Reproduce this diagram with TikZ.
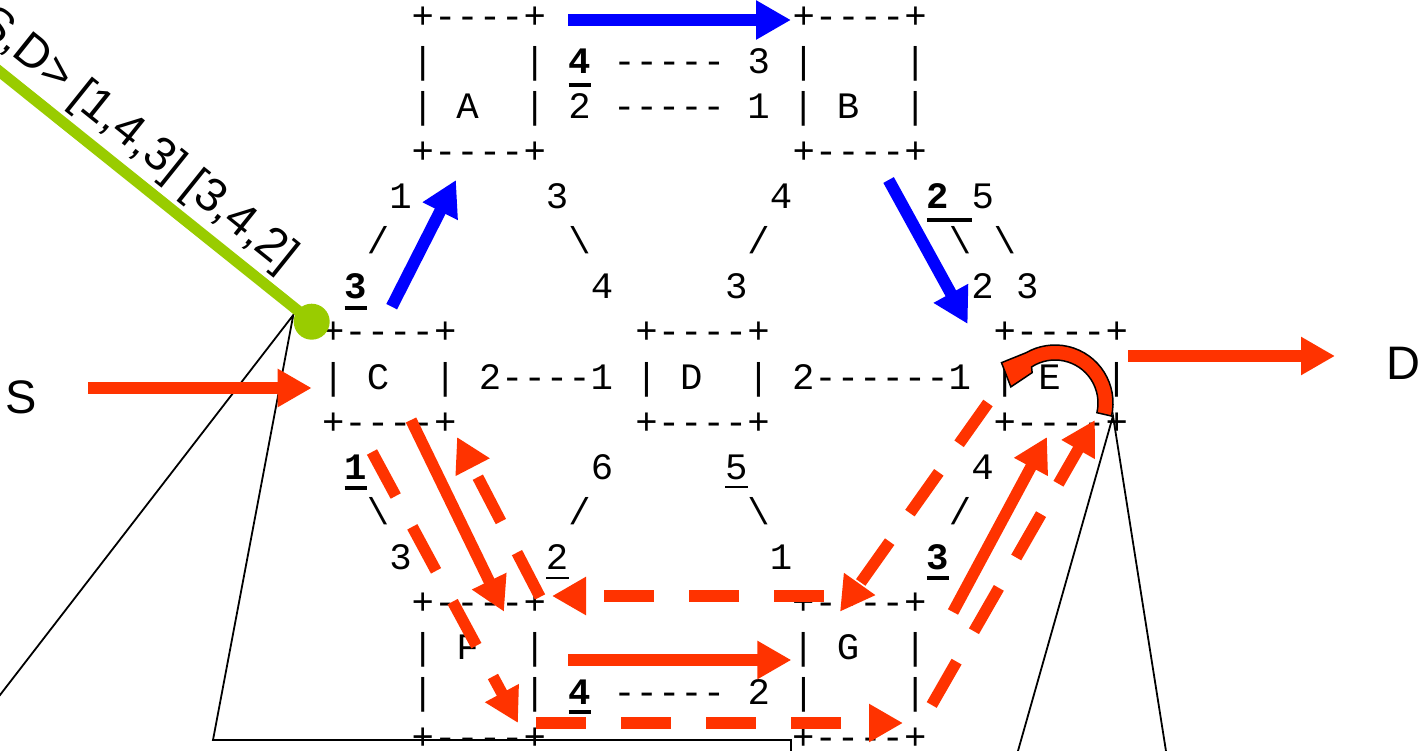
\documentclass[tikz,border=0pt]{standalone}
\usepackage{fontspec}
\setmainfont{Liberation Sans}
\newfontfamily\mono{Liberation Mono}
\usetikzlibrary{arrows.meta}

\definecolor{flow}{RGB}{255,51,0}
\definecolor{route}{RGB}{0,0,255}
\definecolor{leaf}{RGB}{153,204,0}

% one hyphen per cell, so that runs of dashes stay hyphens
\newcommand\hy{\mbox{-}}
\newcommand\bs{\textbackslash}
% \asc[style]{name}{column}{row}{text}: a run of mono text on the character grid
\newcommand\asc[5][]{\node[ascii,#1] (#2) at ({322.1+22.4*(#3)},{-29-45*(#4)}) {#5};}

\begin{document}
\begin{tikzpicture}[x=1pt,y=1pt,
  ascii/.style={anchor=base west, inner sep=0pt, outer sep=0pt,
    font=\mono\fontsize{37.3}{40}\selectfont},
  bold/.style={font=\mono\bfseries\fontsize{37.3}{40}\selectfont},
  rule/.style={line width=4pt},
  thinrule/.style={line width=1.7pt},
  outline/.style={draw=black, line width=1.8pt},
  routeblk/.style={draw=route, line width=12pt, -{Triangle[length=35pt,width=37pt]}},
  flowblk/.style={draw=flow, line width=11.5pt, -{Triangle[length=34pt,width=36pt]}},
  flowdash/.style={flowblk, dash pattern=on 50pt off 35pt},
  label/.style={font=\fontsize{47}{50}\selectfont, inner sep=0pt}]

\useasboundingbox (0,0) rectangle (1422,-751);
\clip (0,0) rectangle (1422,-751);

% ---------- callout outlines ----------
\coordinate (ap) at (293.3,-315);
\coordinate (cl) at (-5,-701.5);
\coordinate (cb) at (213,-740);
\coordinate (cr) at (791,-740);
\coordinate (cd) at (791,-765);
\draw[outline] (cl) -- (ap) -- (cb) -- (cr) -- (cd);
\coordinate (ep) at (1113,-416);
\coordinate (el) at (1015.4,-760);
\coordinate (er) at (1167.4,-760);
\draw[outline] (el) -- (ep) -- (er);

% ---------- the ASCII network ----------
\asc{r0a}{4}{0}{+\hy\hy\hy\hy+}
\asc{r0b}{21}{0}{+\hy\hy\hy\hy+}
\asc{r1a}{4}{1}{|~~~~|}
\asc[bold]{r1n}{11}{1}{4}
\asc{r1b}{13}{1}{\hy\hy\hy\hy\hy~3~|~~~~|}
\asc{r2}{4}{2}{|~A~~|~2~\hy\hy\hy\hy\hy~1~|~B~~|}
\asc{r3a}{4}{3}{+\hy\hy\hy\hy+}
\asc{r3b}{21}{3}{+\hy\hy\hy\hy+}
\asc{r4a}{3}{4}{1~~~~~~3~~~~~~~~~4}
\asc[bold]{r4n}{27}{4}{2}
\asc{r4b}{29}{4}{5}
\asc{r5}{2}{5}{/~~~~~~~~\bs~~~~~~~/~~~~~~~~\bs~\bs}
\asc[bold]{r6n}{1}{6}{3}
\asc{r6}{12}{6}{4~~~~~3~~~~~~~~~~2~3}
\asc{r7}{0}{7}{+\hy\hy\hy\hy+~~~~~~~~+\hy\hy\hy\hy+~~~~~~~~~~+\hy\hy\hy\hy+}
\asc{r8}{0}{8}{|~C~~|~2\hy\hy\hy\hy1~|~D~~|~2\hy\hy\hy\hy\hy\hy1~|~E~~|}
\asc{r9}{0}{9}{+\hy\hy\hy\hy+~~~~~~~~+\hy\hy\hy\hy+~~~~~~~~~~+\hy\hy\hy\hy+}
\asc[bold]{r10n}{1}{10}{1}
\asc{r10}{12}{10}{6~~~~~5~~~~~~~~~~4}
\asc{r11}{2}{11}{\bs~~~~~~~~/~~~~~~~\bs~~~~~~~~/}
\asc{r12}{3}{12}{3~~~~~~2~~~~~~~~~1}
\asc[bold]{r12n}{27}{12}{3}
\asc{r13}{4}{13}{+\hy\hy\hy\hy+~~~~~~~~~~~+\hy\hy\hy\hy+}
\asc{r14}{4}{14}{|~F~~|~~~~~~~~~~~|~G~~|}
\asc{r15a}{4}{15}{|~~~~|}
\asc[bold]{r15n}{11}{15}{4}
\asc{r15b}{13}{15}{\hy\hy\hy\hy\hy~2~|~~~~|}
\asc{r16}{4}{16}{+\hy\hy\hy\hy+~~~~~~~~~~~+\hy\hy\hy\hy+}

% underlined port numbers
\draw[rule] ([yshift=-11pt]r1n.base west) -- ++(22.4,0);
\draw[rule] ([yshift=-11pt]r4n.base west) -- ++(44.8,0);
\draw[rule] ([yshift=-9pt]r6n.base west) -- ++(22.4,0);
\draw[rule] ([yshift=-9pt]r10n.base west) -- ++(22.4,0);
\draw[rule] ([yshift=-9pt]r12n.base west) -- ++(22.4,0);
\draw[rule] ([yshift=-8pt]r15n.base west) -- ++(22.4,0);
\draw[thinrule] ([shift={(134.4,-8pt)}]r10.base west) -- ++(22.4,0);
\draw[thinrule] ([shift={(156.8,-9pt)}]r12.base west) -- ++(22.4,0);

% ---------- path label ----------
\coordinate (g0) at (-10,-63.8);
\coordinate (g1) at (311.7,-321.7);
\draw[leaf, line width=11pt] (g0) -- (g1);
\fill[leaf] (g1) circle (18);
\node[label, rotate=-38.7, anchor=base east] (hops) at (283,-273) {<S,D> [1,4,3] [3,4,2]};

% ---------- end points ----------
\node[label, anchor=base west] (src) at (5,-413) {S};
\node[label, anchor=base west] (dst) at (1386,-380) {D};

% ---------- blue route ----------
\coordinate (u1) at (568,-20);   \coordinate (u2) at (791,-20);
\coordinate (u3) at (391.7,-306.7); \coordinate (u4) at (456,-180);
\coordinate (u5) at (888.6,-180); \coordinate (u6) at (967.7,-324);
\draw[routeblk] (u1) -- (u2);
\draw[routeblk] (u3) -- (u4);
\draw[routeblk] (u5) -- (u6);

% ---------- orange flows ----------
\coordinate (s1) at (88,-388);     \coordinate (s2) at (311.7,-388);
\coordinate (t1) at (1128,-356);   \coordinate (t2) at (1335,-356);
\coordinate (cf1) at (411,-420);   \coordinate (cf2) at (504,-611.7);
\coordinate (fg1) at (568,-660);   \coordinate (fg2) at (791.4,-660);
\coordinate (ge1) at (953,-612);   \coordinate (ge2) at (1047,-437);
\draw[flowblk] (s1) -- (s2);
\draw[flowblk] (t1) -- (t2);
\draw[flowblk] (cf1) -- (cf2);
\draw[flowblk] (fg1) -- (fg2);
\draw[flowblk] (ge1) -- (ge2);

\coordinate (d1a) at (372,-452);   \coordinate (d1b) at (518,-723);
\coordinate (d2a) at (540,-597);   \coordinate (d2b) at (457,-437);
\coordinate (d3a) at (536,-723);   \coordinate (d3b) at (903,-723);
\coordinate (d4a) at (824,-596);   \coordinate (d4b) at (552,-596);
\coordinate (d5a) at (988,-403);   \coordinate (d5b) at (840,-611.7);
\coordinate (d6a) at (931.7,-705); \coordinate (d6b) at (1095,-420);
\draw[flowdash] (d1a) -- (d1b);
\draw[flowdash] (d2a) -- (d2b);
\draw[flowdash] (d3a) -- (d3b);
\draw[flowdash] (d4a) -- (d4b);
\draw[flowdash] (d5a) -- (d5b);
\draw[flowdash] (d6a) -- (d6b);

% ---------- U-turn at E ----------
\coordinate (uc) at (1055,-403);
\filldraw[fill=flow, draw=black, line width=1.5pt]
  ([shift={(-13:58)}]uc) arc[start angle=-13, end angle=120, radius=58]
  -- ([shift={(143:67)}]uc) -- ([shift={(160:47)}]uc)
  -- ([shift={(127:38)}]uc) -- ([shift={(123:43)}]uc)
  arc[start angle=123, end angle=-13, radius=43] -- cycle;

\end{tikzpicture}
\end{document}
